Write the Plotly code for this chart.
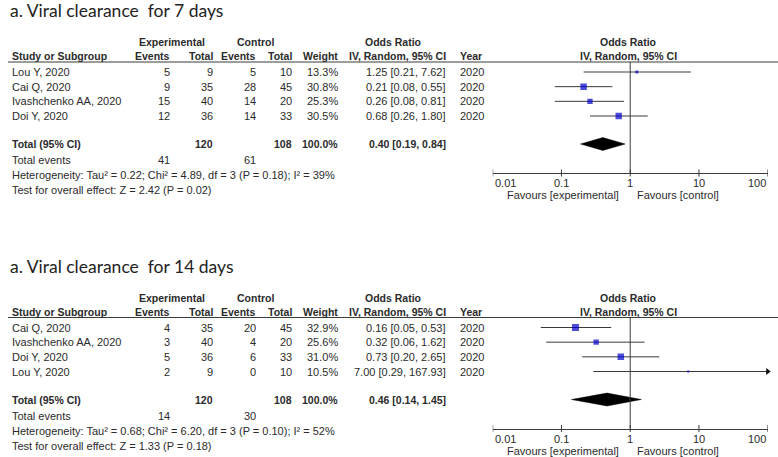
import math
import plotly.graph_objects as go

W, H = 778, 457

# ---- 7-day panel -----------------------------------------------------------
TITLE_7 = "a. Viral clearance\u00a0 for 7 days"
STUDIES_7 = ["Lou Y, 2020", "Cai Q, 2020", "Ivashchenko AA, 2020", "Doi Y, 2020"]
EXP_EV_7 = [5, 9, 15, 12]
EXP_N_7 = [9, 35, 40, 36]
CTL_EV_7 = [5, 28, 14, 14]
CTL_N_7 = [10, 45, 20, 33]
WEIGHT_7 = [13.3, 30.8, 25.3, 30.5]
OR_7 = [1.25, 0.21, 0.26, 0.68]
LO_7 = [0.21, 0.08, 0.08, 0.26]
HI_7 = [7.62, 0.55, 0.81, 1.80]
YEAR_7 = [2020, 2020, 2020, 2020]
TOTAL_7 = [120, 108, 41, 61]          # exp N, ctl N, exp events, ctl events
POOLED_7 = [0.40, 0.19, 0.84]         # OR, lower, upper
HET_7 = "Heterogeneity: Tau² = 0.22; Chi² = 4.89, df = 3 (P = 0.18); I² = 39%"
TEST_7 = "Test for overall effect: Z = 2.42 (P = 0.02)"

# ---- 14-day panel ----------------------------------------------------------
TITLE_14 = "a. Viral clearance\u00a0 for 14 days"
STUDIES_14 = ["Cai Q, 2020", "Ivashchenko AA, 2020", "Doi Y, 2020", "Lou Y, 2020"]
EXP_EV_14 = [4, 3, 5, 2]
EXP_N_14 = [35, 40, 36, 9]
CTL_EV_14 = [20, 4, 6, 0]
CTL_N_14 = [45, 20, 33, 10]
WEIGHT_14 = [32.9, 25.6, 31.0, 10.5]
OR_14 = [0.16, 0.32, 0.73, 7.00]
LO_14 = [0.05, 0.06, 0.20, 0.29]
HI_14 = [0.53, 1.62, 2.65, 167.93]
YEAR_14 = [2020, 2020, 2020, 2020]
TOTAL_14 = [120, 108, 14, 30]
POOLED_14 = [0.46, 0.14, 1.45]
HET_14 = "Heterogeneity: Tau² = 0.68; Chi² = 6.20, df = 3 (P = 0.10); I² = 52%"
TEST_14 = "Test for overall effect: Z = 1.33 (P = 0.18)"

TICKS = [0.01, 0.1, 1, 10, 100]
TICK_TEXT = ["0.01", "0.1", "1", "10", "100"]

TXT = "#2b2b2b"
LINE = "#3a3a3a"
BLUE = "#0000cc"
TFONT = "Liberation Sans"
FS = 11        # regular table text
FSB = 10.5     # bold table text

ROW0, ROWH = 72, 14.67          # first study row (px) and row pitch
AX_L, AX_R = 492.7, 767.7       # forest axis extent (px)

fig = go.Figure()
ann, shapes = [], []


def px(p):
    return p / W


def py(p):
    return 1 - p / H


def txt(x, y, s, anchor="left", bold=False, size=None, family=TFONT, color=TXT, pad=1):
    if size is None:
        size = FSB if bold else FS
    ann.append(dict(x=px(x), y=py(y), xref="paper", yref="paper", text=f"<b>{s}</b>" if bold else s,
                    showarrow=False, xanchor=anchor, yanchor="middle", borderpad=pad,
                    font=dict(family=family, size=size, color=color)))


def panel(n, off, title, studies, eev, en, cev, cn, wt, orr, lo, hi, yr, tot, pooled, het, test):
    xa, ya = ("x", "y") if n == 1 else (f"x{n}", f"y{n}")
    top, bot = 62 + off, 173 + off
    # y axis in "row" units; range maps rows onto pixel rows
    rng = [(bot - off - ROW0) / ROWH, (top - off - ROW0) / ROWH]
    fig.update_layout(**{
        ("xaxis" if n == 1 else f"xaxis{n}"): dict(
            type="log", range=[-2, 2], domain=[px(AX_L), px(AX_R)], anchor=ya,
            showline=True, linecolor=LINE, linewidth=1, ticks="", showticklabels=False,
            showgrid=False, zeroline=False, fixedrange=True),
        ("yaxis" if n == 1 else f"yaxis{n}"): dict(
            range=rng, domain=[py(bot), py(top)], anchor=xa, visible=False,
            showgrid=False, zeroline=False, fixedrange=True),
    })

    txt(9, 10.5 + off, title, size=17.5, family="Lato", color="#222222", pad=0)

    # headers
    txt(172, 42 + off, "Experimental", "center", True)
    txt(255, 42 + off, "Control", "center", True)
    txt(393, 42 + off, "Odds Ratio", "center", True)
    txt(628, 42 + off, "Odds Ratio", "center", True)
    txt(10, 56 + off, "Study or Subgroup", bold=True)
    txt(172, 56 + off, "Events", "right", True)
    txt(215, 56 + off, "Total", "right", True)
    txt(258, 56 + off, "Events", "right", True)
    txt(294, 56 + off, "Total", "right", True)
    txt(340, 56 + off, "Weight", "right", True)
    txt(448, 56 + off, "IV, Random, 95% CI", "right", True)
    txt(458, 56 + off, "Year", bold=True)
    txt(628, 56 + off, "IV, Random, 95% CI", "center", True)
    shapes.append(dict(type="line", xref="paper", yref="paper", x0=px(8), x1=1,
                       y0=py(62 + off), y1=py(62 + off), line=dict(color=LINE, width=1)))

    for i, s in enumerate(studies):
        y = ROW0 + i * ROWH + off
        txt(10, y, s)
        txt(172, y, str(eev[i]), "right")
        txt(215, y, str(en[i]), "right")
        txt(258, y, str(cev[i]), "right")
        txt(294, y, str(cn[i]), "right")
        txt(340, y, f"{wt[i]:.1f}%", "right")
        txt(448, y, f"{orr[i]:.2f} [{lo[i]:.2f}, {hi[i]:.2f}]", "right")
        txt(458, y, str(yr[i]))
        fig.add_trace(go.Scatter(x=[lo[i], hi[i]], y=[i, i], mode="lines", xaxis=xa, yaxis=ya,
                                 line=dict(color=LINE, width=1), hoverinfo="skip", showlegend=False))
        if hi[i] > TICKS[-1]:
            fig.add_trace(go.Scatter(x=[TICKS[-1]], y=[i], mode="markers", xaxis=xa, yaxis=ya,
                                     cliponaxis=False, hoverinfo="skip", showlegend=False,
                                     marker=dict(symbol="triangle-right", size=6, color="#111")))
    fig.add_trace(go.Scatter(x=orr, y=list(range(len(orr))), mode="markers", xaxis=xa, yaxis=ya,
                             marker=dict(symbol="square", size=[w * 0.21 for w in wt], color=BLUE,
                                         line=dict(width=0)),
                             hoverinfo="skip", showlegend=False))

    # pooled
    ty = 144 + off
    tr = (ty - off - ROW0) / ROWH
    txt(10, ty, "Total (95% CI)", bold=True)
    txt(215, ty, str(tot[0]), "right", True)
    txt(294, ty, str(tot[1]), "right", True)
    txt(340, ty, "100.0%", "right", True)
    txt(448, ty, f"{pooled[0]:.2f} [{pooled[1]:.2f}, {pooled[2]:.2f}]", "right", True)
    dh = 0.44
    fig.add_trace(go.Scatter(x=[pooled[1], pooled[0], pooled[2], pooled[0], pooled[1]],
                             y=[tr, tr - dh, tr, tr + dh, tr], mode="lines", fill="toself",
                             fillcolor="#000000", line=dict(color="#000000", width=0.5),
                             xaxis=xa, yaxis=ya, hoverinfo="skip", showlegend=False))

    txt(10, 160 + off, "Total events")
    txt(172, 160 + off, str(tot[2]), "right")
    txt(258, 160 + off, str(tot[3]), "right")
    txt(10, 175 + off, het)
    txt(10, 190 + off, test)

    # line of no effect (shape x values are data values on the log axis)
    shapes.append(dict(type="line", xref=xa, yref="paper", x0=1, x1=1,
                       y0=py(bot), y1=py(top), line=dict(color=LINE, width=1)))
    # ticks both sides of the axis line, labels under them
    for k, (t, lab) in enumerate(zip(TICKS, TICK_TEXT)):
        shapes.append(dict(type="line", xref=xa, yref="paper", x0=t, x1=t,
                           y0=py(bot - 3.5), y1=py(bot + 3.5), line=dict(color=LINE, width=1)))
        anchor = "left" if k == 0 else "right" if k == len(TICKS) - 1 else "center"
        ann.append(dict(x=math.log10(t), y=py(183 + off), xref=xa, yref="paper", text=lab,
                        showarrow=False, xanchor=anchor, yanchor="middle",
                        font=dict(family=TFONT, size=FS, color=TXT)))
    txt(621, 195 + off, "Favours [experimental]", "right")
    txt(635, 195 + off, "Favours [control]")


panel(1, 0, TITLE_7, STUDIES_7, EXP_EV_7, EXP_N_7, CTL_EV_7, CTL_N_7, WEIGHT_7,
      OR_7, LO_7, HI_7, YEAR_7, TOTAL_7, POOLED_7, HET_7, TEST_7)
panel(2, 255.5, TITLE_14, STUDIES_14, EXP_EV_14, EXP_N_14, CTL_EV_14, CTL_N_14, WEIGHT_14,
      OR_14, LO_14, HI_14, YEAR_14, TOTAL_14, POOLED_14, HET_14, TEST_14)

fig.update_layout(width=W, height=H, margin=dict(l=0, r=0, t=0, b=0),
                  paper_bgcolor="white", plot_bgcolor="white",
                  annotations=ann, shapes=shapes, showlegend=False)
# the browser's default 8px body margin would push the whole figure down and right
fig.write_html("out.html", config={"displayModeBar": False},
               post_script="document.body.style.margin='0px';")
